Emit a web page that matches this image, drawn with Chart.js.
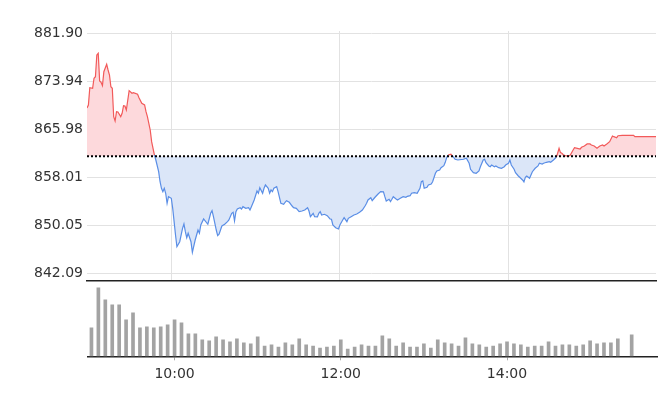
<!DOCTYPE html>
<html>
<head>
<meta charset="utf-8">
<script src="https://cdn.jsdelivr.net/npm/chart.js@4.4.1/dist/chart.umd.min.js"></script>
<style>
    body { margin: 0; background: #fff; }
    #wrap { position: relative; width: 658px; height: 408px; }
    #price-chart { position: absolute; left: 0; top: 0; }
    #volume-chart { position: absolute; left: 0; top: 281px; }
</style>
</head>
<body>
<div id="wrap">
    <canvas id="price-chart" width="658" height="294"></canvas>
    <canvas id="volume-chart" width="658" height="127"></canvas>
</div>
<script>
////////////////////////////////////////////////////////////////////////////////
//--------------------------------DATA----------------------------------------//
// minutes after 09:00 and index value
var priceMinutes = [0, 1, 2, 4, 5, 6, 7, 8, 9, 10, 11, 12, 14, 15, 16, 17, 18, 19, 20, 21, 22, 24, 25, 26, 27, 28, 30, 32, 33, 36, 37, 39,
    41, 42, 43, 45, 46, 48, 49, 51, 52, 53, 54, 55, 56, 57, 58, 60, 61, 62, 63, 64, 66, 68, 69, 70, 71, 72, 74, 75, 77, 78, 79, 80, 81, 83,
    86, 88, 89, 90, 92, 93, 94, 96, 98, 100, 101, 103, 104, 105, 106, 107, 109, 110, 111, 113, 115, 116, 117, 119, 121, 122, 123, 125, 126,
    127, 129, 130, 131, 132, 133, 135, 136, 138, 140, 141, 142, 144, 146, 147, 149, 151, 153, 155, 157, 158, 159, 161, 162, 164, 165, 166,
    167, 169, 171, 173, 174, 175, 177, 179, 180, 182, 183, 185, 186, 188, 190, 192, 194, 196, 198, 199, 200, 202, 203, 205, 207, 209, 211,
    212, 213, 215, 216, 217, 218, 220, 221, 223, 225, 227, 228, 230, 231, 233, 235, 237, 238, 239, 240, 242, 243, 245, 246, 248, 249, 251,
    252, 254, 255, 256, 257, 259, 260, 262, 264, 268, 270, 272, 273, 275, 277, 279, 280, 282, 283, 284, 286, 287, 288, 290, 291, 293, 295,
    297, 298, 300, 301, 302, 304, 305, 307, 308, 310, 311, 312, 313, 315, 316, 317, 319, 321, 322, 324, 325, 327, 329, 330, 332, 334, 335,
    336, 337, 338, 339, 341, 343, 344, 346, 347, 349, 351, 352, 354, 356, 358, 359, 361, 363, 365, 367, 368, 370, 372, 374, 375, 377, 378,
    381, 385, 389, 390, 405]
var prices = [869.51, 870.01, 872.88, 872.78, 874.44, 874.70, 878.30, 878.58, 873.99, 873.77, 873.21, 875.53, 876.76, 875.81, 874.98,
    873.04, 872.78, 868.07, 867.35, 868.90, 868.85, 868.07, 868.63, 869.89, 869.84, 869.18, 872.38, 871.95, 872.05, 871.78, 871.22, 870.29,
    870.01, 868.90, 868.07, 865.86, 863.92, 861.71, 860.88, 858.94, 857.28, 856.19, 855.63, 856.19, 855.36, 853.70, 854.80, 854.53, 852.87,
    850.65, 848.44, 846.50, 847.33, 849.55, 850.27, 848.99, 848.00, 848.73, 847.33, 845.57, 847.61, 848.44, 849.27, 848.73, 850.10, 851.10,
    850.22, 852.04, 852.47, 851.48, 849.27, 848.33, 848.56, 849.94, 850.22, 850.65, 850.93, 852.04, 852.21, 850.77, 852.31, 852.76, 852.97,
    852.76, 853.14, 852.87, 852.97, 852.59, 853.14, 854.25, 855.74, 855.36, 856.29, 855.36, 856.19, 856.74, 856.19, 855.36, 855.91, 855.63,
    856.19, 856.46, 855.63, 853.70, 853.54, 853.87, 854.13, 853.87, 853.25, 852.97, 852.87, 852.31, 852.42, 852.59, 852.97, 852.42, 851.48,
    852.04, 851.48, 851.45, 852.04, 852.31, 851.76, 851.88, 851.65, 851.10, 851.05, 850.10, 849.65, 849.44, 850.10, 850.93, 851.31, 850.65,
    851.21, 851.48, 851.76, 851.93, 852.21, 852.59, 853.30, 853.70, 854.25, 854.63, 854.13, 854.70, 855.20, 855.63, 855.60, 854.80, 854.08,
    854.37, 853.97, 854.37, 854.80, 854.42, 854.25, 854.53, 854.80, 854.70, 854.85, 854.96, 855.36, 855.46, 855.36, 856.19, 857.28, 857.40,
    856.19, 856.36, 856.74, 856.90, 857.28, 858.68, 859.06, 859.23, 859.61, 859.94, 860.50, 861.27, 861.71, 861.83, 861.60, 861.00, 860.88,
    861.00, 861.17, 860.34, 859.34, 858.78, 858.68, 859.06, 859.77, 860.88, 861.00, 860.44, 859.89, 859.77, 860.05, 859.77, 859.89, 859.61,
    859.51, 859.77, 860.05, 860.34, 860.88, 860.05, 859.34, 858.78, 858.23, 858.01, 857.57, 857.24, 858.01, 858.23, 857.85, 858.40, 858.94,
    859.51, 859.89, 860.34, 860.22, 860.34, 860.50, 860.60, 860.50, 860.88, 861.33, 862.00, 862.83, 862.10, 862.00, 861.76, 861.55, 861.55,
    861.71, 862.54, 862.92, 862.82, 862.71, 862.99, 863.21, 863.54, 863.54, 863.37, 863.21, 862.82, 863.21, 863.37, 863.21, 863.54, 863.92,
    864.87, 864.75, 864.58, 864.91, 864.98, 864.98, 864.98, 864.75, 864.75]

var prevClose = 861.50
var priceTicks = [881.90, 873.94, 865.98, 858.01, 850.05, 842.09]
var timeTicks = [60, 180, 300]   // 10:00, 12:00, 14:00

// 5 minute volume bars starting 09:00 (15:25 has no trades)
var volumes = [2830, 6830, 5630, 5130, 5130, 3630, 4330, 2830, 2930, 2830, 2930, 3130, 3630, 3330, 2230, 2230, 1630, 1530, 1930, 1630,
    1430, 1730, 1330, 1230, 1930, 1030, 1130, 930, 1330, 1130, 1730, 1130, 1030, 830, 930, 1030, 1630, 730, 930, 1130, 1030, 1030, 2030,
    1730, 1030, 1330, 930, 930, 1230, 830, 1630, 1330, 1230, 1030, 1830, 1230, 1130, 930, 1030, 1230, 1430, 1230, 1130, 930, 1030, 1030,
    1430, 1030, 1130, 1130, 1030, 1130, 1530, 1230, 1330, 1330, 1730, null, 2130]
var volumeMax = 7500

var colorUp = '#f25a5a'
var colorUpFill = '#fdd9dc'
var colorDown = '#5a8ee6'
var colorDownFill = '#dbe6f8'
var fontText = { family: 'DejaVu Sans', size: 14 }

function minutesToClock(m) {
    var h = 9 + Math.floor(m / 60)
    var mm = m % 60
    return h + ':' + (mm < 10 ? '0' : '') + mm
}

var pricePoints = priceMinutes.map((m, i) => ({ x: m, y: prices[i] }))
var volumePoints = volumes.map((v, i) => ({ x: i * 5, y: v }))

////////////////////////////////////////////////////////////////////////////////
//--------------------------------PRICE---------------------------------------//
var ctxPrice = document.getElementById('price-chart').getContext('2d');

let priceChart = new Chart(ctxPrice, {
    type: 'line',
    data: {
        datasets: [{
            // previous close, dotted
            data: [{ x: 0, y: prevClose }, { x: 405, y: prevClose }],
            borderColor: '#000',
            borderWidth: 2,
            borderDash: [2, 2],
            pointRadius: 0,
            fill: false
        }, {
            data: pricePoints,
            borderColor: colorDown,
            borderWidth: 1.2,
            pointRadius: 0,
            tension: 0,
            fill: {
                target: { value: prevClose },
                above: colorUpFill,
                below: colorDownFill
            },
            segment: {
                borderColor: ctx => (ctx.p0.parsed.y + ctx.p1.parsed.y) / 2 >= prevClose ? colorUp : colorDown
            }
        }]
    },
    options: {
        responsive: false,
        animation: false,
        layout: { padding: { left: 0, right: 2, top: 31, bottom: 0 } },
        plugins: {
            legend: { display: false },
            tooltip: { enabled: false }
        },
        scales: {
            x: {
                type: 'linear',
                min: 0,
                max: 405,
                afterBuildTicks: scale => { scale.ticks = timeTicks.map(v => ({ value: v })) },
                afterFit: scale => { scale.height = 13 },
                ticks: { display: false },
                grid: { color: '#e2e2e2', drawTicks: false },
                border: { display: true, color: '#222', width: 1.5 }
            },
            y: {
                min: 840.81,
                max: 882.28,
                afterBuildTicks: scale => { scale.ticks = priceTicks.map(v => ({ value: v })) },
                afterFit: scale => { scale.width = 87 },
                ticks: {
                    padding: 4,
                    color: '#333',
                    font: fontText,
                    callback: value => value.toFixed(2)
                },
                grid: { color: '#e2e2e2', drawTicks: false },
                border: { display: false }
            }
        }
    }
})

////////////////////////////////////////////////////////////////////////////////
//--------------------------------VOLUME--------------------------------------//
var ctxVolume = document.getElementById('volume-chart').getContext('2d');

let volumeChart = new Chart(ctxVolume, {
    type: 'bar',
    data: {
        datasets: [{
            data: volumePoints,
            backgroundColor: '#a3a3a3',
            barThickness: 3
        }]
    },
    options: {
        responsive: false,
        animation: false,
        layout: { padding: { left: 87.3, right: 0, top: 0, bottom: 0 } },
        plugins: {
            legend: { display: false },
            tooltip: { enabled: false }
        },
        scales: {
            x: {
                type: 'linear',
                min: -3,
                max: 409,
                offset: false,
                afterBuildTicks: scale => { scale.ticks = timeTicks.map(v => ({ value: v })) },
                afterFit: scale => { scale.height = 51.7 },
                ticks: {
                    padding: 6,
                    color: '#333',
                    font: fontText,
                    callback: value => minutesToClock(value)
                },
                grid: { offset: false, drawOnChartArea: false, drawTicks: true, tickLength: 4, color: '#aaa' },
                border: { display: true, color: '#222', width: 1.5 }
            },
            y: {
                display: false,
                min: 0,
                max: volumeMax
            }
        }
    }
})
</script>
</body>
</html>
